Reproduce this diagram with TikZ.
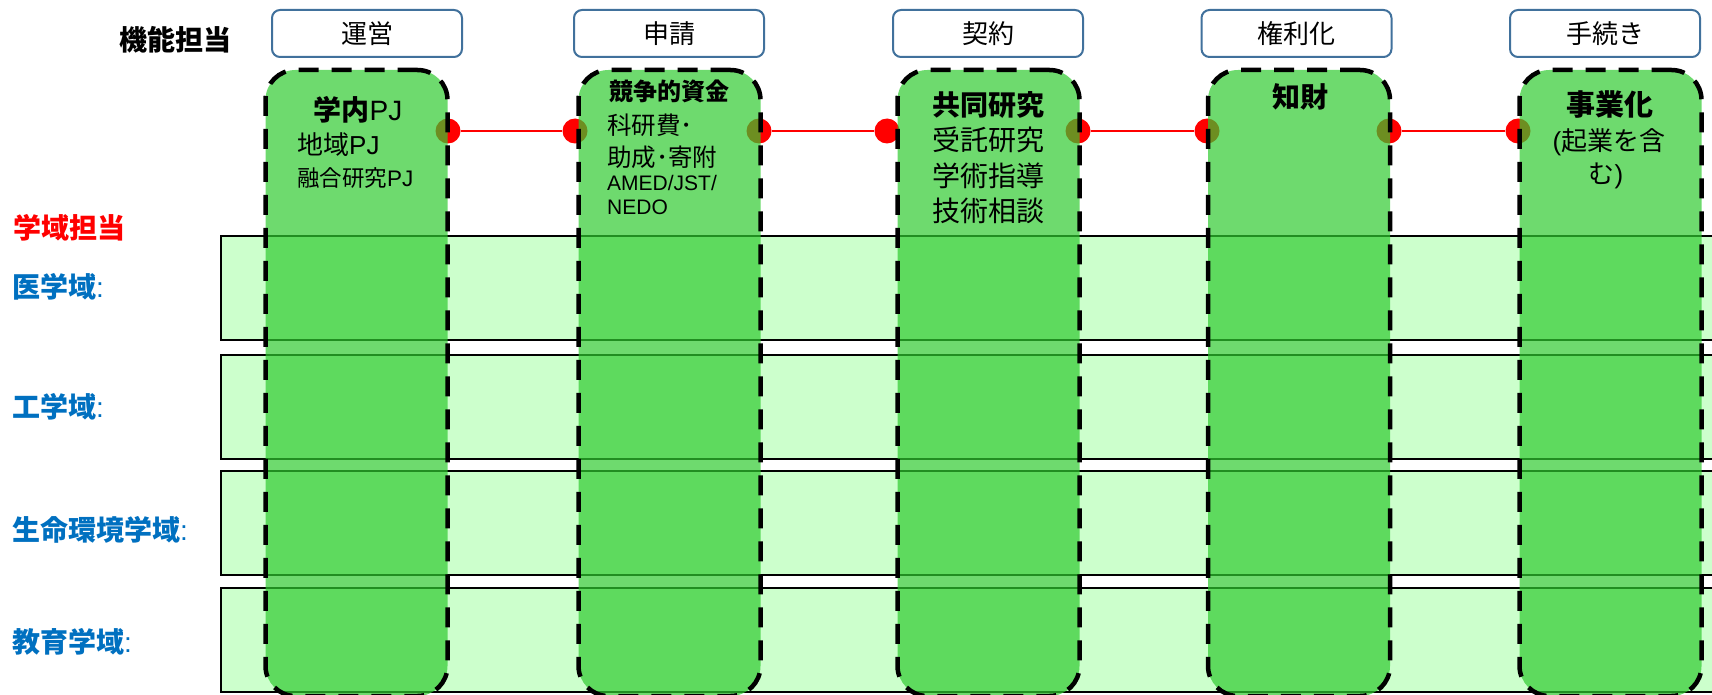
\documentclass[tikz,border=0pt]{standalone}
\usepackage{fontspec}
\setmainfont{Noto Sans CJK JP}
\newfontfamily\lt{Liberation Sans}
\definecolor{colgreen}{RGB}{48,203,48}
\definecolor{rowgreen}{RGB}{204,255,204}
\definecolor{boxblue}{RGB}{65,113,156}
\definecolor{dblue}{RGB}{0,112,192}
\newcommand{\fs}[1]{\fontsize{#1}{#1}\selectfont}
\begin{document}
\begin{tikzpicture}[x=1pt,y=-1pt,
  fbox/.style={draw=boxblue, line width=2pt, rounded corners=8pt, fill=white,
    minimum width=190pt, minimum height=47pt, inner sep=0pt, font=\fs{26}},
  rowbox/.style={draw=black, line width=2pt, fill=rowgreen, anchor=north west,
    minimum width=1520pt, minimum height=104pt, inner sep=0pt},
  colbox/.style={fill=colgreen, fill opacity=0.7, draw=black, line width=4.5pt,
    dash pattern=on 20pt off 13pt, rounded corners=30pt,
    minimum width=182pt, minimum height=626pt, inner sep=0pt},
  dot/.style={circle, fill=red, minimum size=25pt, inner sep=0pt},
  link/.style={draw=red, line width=2.5pt},
  txt/.style={anchor=base, inner sep=0pt},
  ltxt/.style={anchor=base west, inner sep=0pt},
  dom/.style={anchor=base west, inner sep=0pt, text=dblue, font=\fs{28}}]
\useasboundingbox (0,0) rectangle (1712,695);
\clip (0,0) rectangle (1712,695);
% rows
\node[rowbox] (r1) at (220,235) {};
\node[rowbox] (r2) at (220,354) {};
\node[rowbox] (r3) at (220,470) {};
\node[rowbox] (r4) at (220,587) {};
% dots and links
\node[dot] (d1) at (448,131) {};
\node[dot] (d2) at (575,131) {};
\node[dot] (d3) at (759,131) {};
\node[dot] (d4) at (887,131) {};
\node[dot] (d5) at (1078,131) {};
\node[dot] (d6) at (1207,131) {};
\node[dot] (d7) at (1389,131) {};
\node[dot] (d8) at (1518,131) {};
\draw[link] (d1) -- (d2);
\draw[link] (d3) -- (d4);
\draw[link] (d5) -- (d6);
\draw[link] (d7) -- (d8);
% columns
\node[colbox] (c1) at (356.5,383) {};
\node[colbox] (c2) at (669.5,383) {};
\node[colbox] (c3) at (988.5,383) {};
\node[colbox] (c4) at (1299,383) {};
\node[colbox] (c5) at (1610.5,383) {};
% function boxes
\node[fbox] (f1) at (367,33.5) {運営};
\node[fbox] (f2) at (669,33.5) {申請};
\node[fbox] (f3) at (988,33.5) {契約};
\node[fbox] (f4) at (1296.5,33.5) {権利化};
\node[fbox] (f5) at (1605,33.5) {手続き};
% left labels
\node[txt, font=\fs{28}\bfseries] (kino) at (175,50.6) {機能担当};
\node[ltxt, font=\fs{28}\bfseries, text=red] (gakuiki) at (13,238.6) {学域担当};
\node[dom] (l1) at (12,297.6) {\textbf{医学域}{\lt :}};
\node[dom] (l2) at (12,417.6) {\textbf{工学域}{\lt :}};
\node[dom] (l3) at (12,540.6) {\textbf{生命環境学域}{\lt :}};
\node[dom] (l4) at (12,652.6) {\textbf{教育学域}{\lt :}};
% column 1 texts
\node[txt, font=\fs{28}] (t11) at (358,120.6) {\textbf{学内}{\lt PJ}};
\node[ltxt, font=\fs{26}] (t12) at (297,155) {地域{\lt PJ}};
\node[ltxt, font=\fs{22.5}] (t13) at (297,186.6) {融合研究{\lt PJ}};
% column 2 texts
\node[txt, font=\fs{24}\bfseries] (t21) at (669,101) {競争的資金};
\node[ltxt, font=\fs{24.5}] (t22) at (607,134.3) {科研費･};
\node[ltxt, font=\fs{24.5}] (t23) at (607,166.3) {助成･寄附};
\node[ltxt, font=\fs{21}\lt] (t24) at (607,190.5) {AMED/JST/};
\node[ltxt, font=\fs{21}\lt] (t25) at (607,214.5) {NEDO};
% column 3 texts
\node[txt, font=\fs{28}\bfseries] (t31) at (988.5,115.6) {共同研究};
\node[txt, font=\fs{28}] (t32) at (988.5,150.6) {受託研究};
\node[txt, font=\fs{28}] (t33) at (988.5,186.6) {学術指導};
\node[txt, font=\fs{28}] (t34) at (988.5,221.6) {技術相談};
% column 4 texts
\node[txt, font=\fs{28}\bfseries] (t41) at (1300,107.6) {知財};
% column 5 texts
\node[txt, font=\fs{29}\bfseries] (t51) at (1610,116) {事業化};
\node[txt, font=\fs{26}] (t52) at (1609,151) {{\lt (}起業を含};
\node[txt, font=\fs{26}] (t53) at (1606,183) {む{\lt )}};
\end{tikzpicture}
\end{document}
